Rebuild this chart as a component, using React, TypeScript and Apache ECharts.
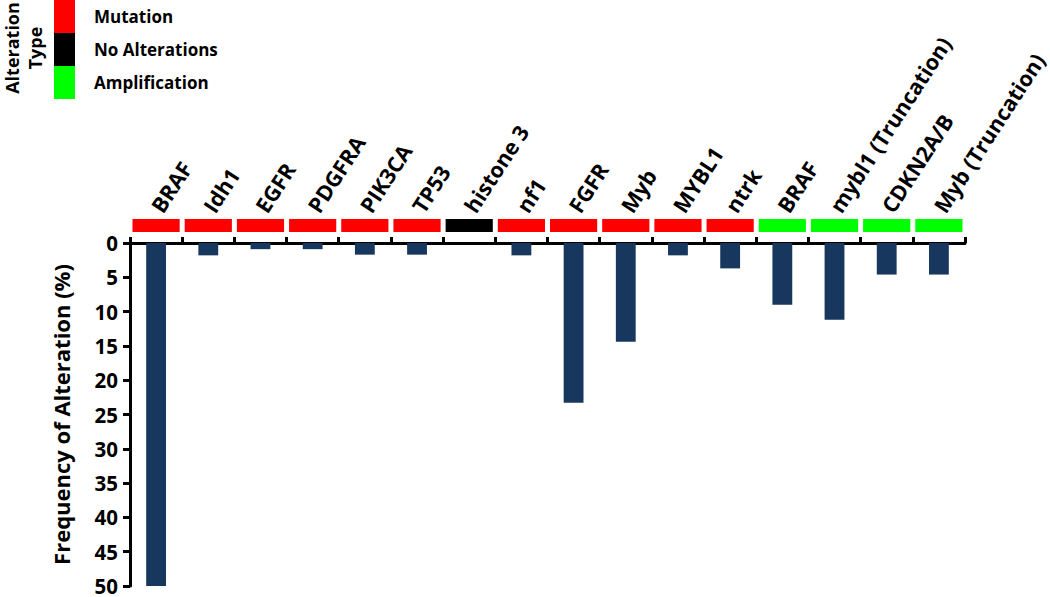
import React, { useEffect, useRef } from "react";
import * as echarts from "echarts";

const categories = [
  "BRAF", "Idh1", "EGFR", "PDGFRA", "PIK3CA", "TP53", "histone 3", "nf1",
  "FGFR", "Myb", "MYBL1", "ntrk", "BRAF", "mybl1 (Truncation)", "CDKN2A/B", "Myb (Truncation)",
];
const frequencies = [50, 1.8, 0.9, 0.9, 1.7, 1.7, 0, 1.8, 23.3, 14.4, 1.8, 3.7, 9.0, 11.2, 4.6, 4.6];
const alterationTypes = [
  "Mutation", "Mutation", "Mutation", "Mutation", "Mutation", "Mutation", "No Alterations", "Mutation",
  "Mutation", "Mutation", "Mutation", "Mutation", "Amplification", "Amplification", "Amplification", "Amplification",
];
const typeNames = ["Mutation", "No Alterations", "Amplification"];
const typeColors = ["#FF0000", "#000000", "#00FF00"];
const yTicks = { min: 0, max: 50, interval: 5 };

const FONT = "'Open Sans', Lato, sans-serif";

export default function App() {
  const ref = useRef<HTMLDivElement>(null);
  useEffect(() => {
    if (!ref.current) return;
    const chart = echarts.init(ref.current, null, { renderer: "svg" });
    const stripSeries = typeNames.map((name, ti) => ({
      name,
      type: "custom",
      clip: false,
      z: 5,
      itemStyle: { color: typeColors[ti] },
      data: categories
        .map((_, i) => i)
        .filter((i) => alterationTypes[i] === name)
        .map((i) => [i, 0]),
      renderItem: (params: any, api: any) => {
        const idx = api.value(0);
        const p = api.coord([idx, 0]);
        const w = api.size([1, 0])[0];
        return {
          type: "rect",
          shape: { x: p[0] - w / 2 + 2.5, y: p[1] - 24, width: w - 5, height: 13 },
          style: { fill: typeColors[ti] },
        };
      },
    }));
    chart.setOption({
      animation: false,
      textStyle: { fontFamily: FONT },
      grid: { left: 130, right: 84, top: 243, bottom: 11, containLabel: false },
      legend: {
        orient: "vertical",
        left: 54,
        top: 0,
        padding: 0,
        itemWidth: 21,
        itemHeight: 33,
        itemGap: 0,
        icon: "rect",
        selectedMode: false,
        data: typeNames,
        textStyle: {
          fontFamily: FONT,
          fontWeight: "bold",
          fontSize: 17,
          color: "#000",
          padding: [0, 0, 5, 14],
        },
      },
      graphic: [
        {
          type: "text",
          x: 23,
          y: 48,
          rotation: Math.PI / 2,
          style: {
            text: "Alteration\nType",
            fontFamily: FONT,
            fontWeight: "bold",
            fontSize: 18,
            lineHeight: 23,
            fill: "#000",
            align: "center",
            verticalAlign: "middle",
          },
        },
      ],
      xAxis: {
        type: "category",
        position: "top",
        data: categories,
        boundaryGap: true,
        axisLine: { lineStyle: { color: "#000", width: 3 } },
        axisTick: { show: true, length: 6, lineStyle: { color: "#000", width: 3 } },
        axisLabel: {
          interval: 0,
          rotate: 57,
          margin: 33,
          fontFamily: FONT,
          fontWeight: "bold",
          fontSize: 21.5,
          color: "#000",
        },
      },
      yAxis: {
        type: "value",
        inverse: true,
        min: yTicks.min,
        max: yTicks.max,
        interval: yTicks.interval,
        name: "Frequency of Alteration (%)",
        nameLocation: "middle",
        nameGap: 58,
        nameTextStyle: { fontFamily: FONT, fontWeight: "bold", fontSize: 22, color: "#000" },
        splitLine: { show: false },
        axisLine: { show: true, lineStyle: { color: "#000", width: 3 } },
        axisTick: { show: true, length: 7, lineStyle: { color: "#000", width: 3 } },
        axisLabel: {
          fontFamily: FONT,
          fontWeight: "bold",
          fontSize: 20.5,
          lineHeight: 18,
          color: "#000",
          margin: 12,
        },
      },
      series: [
        {
          type: "bar",
          data: frequencies,
          barWidth: "38%",
          itemStyle: { color: "#17375E" },
        },
        ...stripSeries,
      ],
    });
    return () => chart.dispose();
  }, []);
  return <div ref={ref} style={{ width: 1050, height: 597, position: "absolute", left: 0, top: 0 }} />;
}
